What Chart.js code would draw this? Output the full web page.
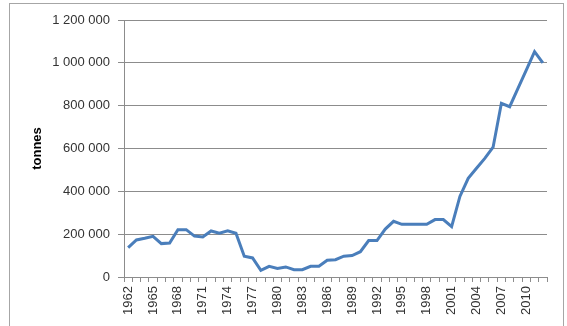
<!DOCTYPE html>
<html>
<head>
<meta charset="utf-8">
<script src="https://cdn.jsdelivr.net/npm/chart.js@4"></script>
<style>
  html, body { margin: 0; padding: 0; background: #fff; }
  #wrap { position: relative; width: 567px; height: 326px; overflow: hidden; }
  #frame { position: absolute; left: 9px; top: 3px; width: 553px; height: 340px; border: 1px solid #a6a6a6; }
  canvas { position: absolute; left: 0; top: 0; }
</style>
</head>
<body>
<div id="wrap">
  <div id="frame"></div>
  <canvas id="chart" width="567" height="326"></canvas>
</div>
<script>
// ─── Data ─────────────────────────────────────────────────────────────────
const years = [];
for (let y = 1962; y <= 2012; y++) years.push(String(y));

const tonnes = [
  137000, 173000, 181000, 190000, 156000, 159000, 221000, 221000, 191000, 187000,
  215000, 205000, 216000, 204000,  97000,  89000,  31000,  50000,  40000,  47000,
   34000,  34000,  50000,  50000,  78000,  81000,  97000, 100000, 118000, 170000,
  170000, 224000, 260000, 246000, 246000, 246000, 246000, 268000, 268000, 235000,
  376000, 461000, 508000, 554000, 606000, 811000, 795000, 881000, 966000, 1052000,
  1000000
];

const yMax  = 1200000;
const yStep = 200000;

// ─── Helpers ──────────────────────────────────────────────────────────────
function spaced(n) {
  return String(n).replace(/\B(?=(\d{3})+(?!\d))/g, " ");
}

const GRID = "#8c8c8c";
const TXT  = "#333333";
const FONT = "'Liberation Sans', Arial, sans-serif";

// ─── Chart ────────────────────────────────────────────────────────────────
new Chart(document.getElementById("chart").getContext("2d"), {
  type: "line",
  data: {
    labels: years,
    datasets: [{
      data:        tonnes,
      borderColor: "#4a7ebb",
      borderWidth: 3,
      pointRadius: 0,
      tension:     0,
      fill:        false,
    }],
  },
  options: {
    responsive: false,
    animation:  false,
    layout: { padding: { top: 20, right: 20, bottom: 0, left: 0 } },
    plugins: { legend: { display: false }, tooltip: { enabled: false } },
    scales: {
      x: {
        offset: true,
        grid:   { offset: true, drawOnChartArea: false, drawTicks: true, tickLength: 5, color: GRID },
        border: { display: true, color: GRID },
        ticks: {
          autoSkip:    false,
          minRotation: 90,
          maxRotation: 90,
          padding:     4,
          color:       TXT,
          font:        { family: FONT, size: 13 },
          callback:    (v, i) => (i % 3 === 0 && i <= 48) ? years[i] : "",
        },
        afterFit: s => { s.height = 49; },
      },
      y: {
        min: 0,
        max: yMax,
        grid:   { color: GRID, tickLength: 6 },
        border: { display: true, color: GRID },
        ticks: {
          stepSize: yStep,
          padding:  8,
          color:    TXT,
          font:     { family: FONT, size: 13 },
          callback: v => spaced(v),
        },
        title: {
          display: true,
          text:    "tonnes",
          color:   "#000",
          font:    { family: FONT, size: 13, weight: "bold" },
          padding: { top: 30, bottom: 0 },
        },
        afterFit: s => { s.width = 124; },
      },
    },
  },
});
</script>
</body>
</html>
